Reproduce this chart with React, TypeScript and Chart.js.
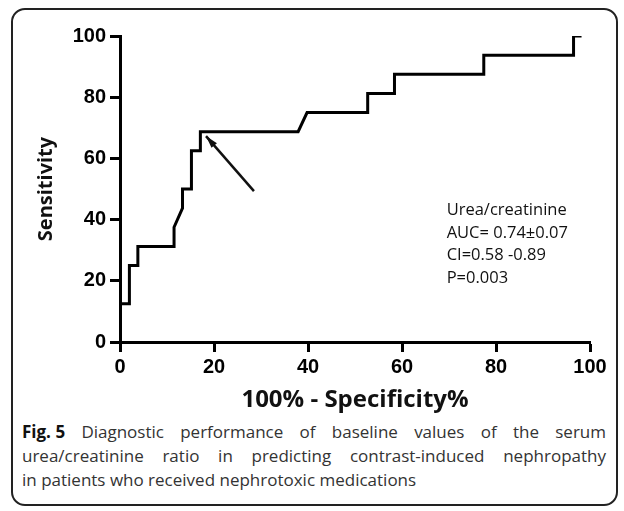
import React, { useEffect, useRef } from "react";
import { Chart, registerables } from "chart.js";

Chart.register(...registerables);

// ROC curve: 100% - Specificity% (x) vs Sensitivity (y)
const fprValues = [0, 0, 2, 2, 3.8, 3.8, 11.5, 11.5, 13.3, 13.3, 15.2, 15.2, 17.1, 17.1, 37.9, 39.8, 52.7, 52.7, 58.4, 58.4, 77.4, 77.4, 96.5, 96.5, 98.2];
const sensValues = [0, 12.5, 12.5, 25, 25, 31.25, 31.25, 37.5, 43.75, 50, 50, 62.5, 62.5, 68.75, 68.75, 75, 75, 81.25, 81.25, 87.5, 87.5, 93.75, 93.75, 100, 100];

const tickValues = [0, 20, 40, 60, 80, 100];
const xTitle = "100% - Specificity%";
const yTitle = "Sensitivity";

const annotationLines = ["Urea/creatinine", "AUC= 0.74\u00B10.07", "CI=0.58 -0.89", "P=0.003"];
const annotationAnchor = { x: 69.5, y: 43 };
const arrowTail = { x: 28.5, y: 49.3 };
const arrowHead = { x: 18.3, y: 67.3 };

const captionBold = "Fig. 5";
const captionLines = [
  "Diagnostic performance of baseline values of the serum",
  "urea/creatinine ratio in predicting contrast-induced nephropathy",
  "in patients who received nephrotoxic medications",
];

const annotationPlugin = {
  id: "rocAnnotations",
  afterDatasetsDraw(chart: any) {
    const { ctx, scales } = chart;
    const xs = scales.x;
    const ys = scales.y;
    ctx.save();
    // arrow
    const x1 = xs.getPixelForValue(arrowTail.x);
    const y1 = ys.getPixelForValue(arrowTail.y);
    const x2 = xs.getPixelForValue(arrowHead.x);
    const y2 = ys.getPixelForValue(arrowHead.y);
    ctx.strokeStyle = "#111";
    ctx.fillStyle = "#111";
    ctx.lineWidth = 2.5;
    ctx.beginPath();
    ctx.moveTo(x1, y1);
    ctx.lineTo(x2, y2);
    ctx.stroke();
    const ang = Math.atan2(y2 - y1, x2 - x1);
    const len = 13;
    const spread = 0.28;
    ctx.beginPath();
    ctx.moveTo(x2, y2);
    ctx.lineTo(x2 - len * Math.cos(ang - spread), y2 - len * Math.sin(ang - spread));
    ctx.lineTo(x2 - len * Math.cos(ang + spread), y2 - len * Math.sin(ang + spread));
    ctx.closePath();
    ctx.fill();
    // text
    ctx.font = '16.5px "Open Sans"';
    ctx.fillStyle = "#111";
    ctx.textBaseline = "middle";
    ctx.textAlign = "left";
    const tx = xs.getPixelForValue(annotationAnchor.x);
    const ty = ys.getPixelForValue(annotationAnchor.y);
    annotationLines.forEach((line, i) => {
      ctx.fillText(line, tx, ty + i * 22.5);
    });
    ctx.restore();
  },
};

function RocChart() {
  const ref = useRef<HTMLCanvasElement | null>(null);
  useEffect(() => {
    if (!ref.current) return;
    const data = fprValues.map((x, i) => ({ x, y: sensValues[i] }));
    const tickFont = { family: '"Liberation Sans", Arial, sans-serif', size: 20, weight: "bold" as const };
    const chart = new Chart(ref.current, {
      type: "scatter",
      data: {
        datasets: [
          {
            data,
            showLine: true,
            borderColor: "#000",
            borderWidth: 3,
            pointRadius: 0,
            tension: 0,
            fill: false,
          },
        ],
      },
      options: {
        animation: false,
        responsive: false,
        layout: { padding: { top: 36, right: 34, left: 0, bottom: 0 } },
        plugins: { legend: { display: false }, tooltip: { enabled: false } },
        scales: {
          x: {
            type: "linear",
            min: 0,
            max: 100,
            afterBuildTicks: (scale: any) => {
              scale.ticks = tickValues.map((v) => ({ value: v }));
            },
            afterFit: (scale: any) => {
              scale.height = 78;
            },
            ticks: { color: "#000", font: tickFont, padding: 3, maxRotation: 0 },
            grid: { drawOnChartArea: false, drawTicks: true, tickLength: 10, tickWidth: 3, tickColor: "#000" },
            border: { display: true, color: "#000", width: 3 },
            title: {
              display: true,
              text: xTitle,
              color: "#111",
              font: { family: '"Open Sans", sans-serif', size: 24, weight: "bold" },
              padding: { top: 0, bottom: 5 },
            },
          },
          y: {
            type: "linear",
            min: 0,
            max: 100,
            afterBuildTicks: (scale: any) => {
              scale.ticks = tickValues.map((v) => ({ value: v }));
            },
            afterFit: (scale: any) => {
              scale.width = 120;
            },
            ticks: { color: "#000", font: tickFont, padding: 4 },
            grid: { drawOnChartArea: false, drawTicks: true, tickLength: 10, tickWidth: 3, tickColor: "#000" },
            border: { display: true, color: "#000", width: 3 },
            title: {
              display: true,
              text: yTitle,
              color: "#111",
              font: { family: '"Open Sans", sans-serif', size: 20, weight: "bold" },
              padding: { top: 34, bottom: 0 },
            },
          },
        },
      },
      plugins: [annotationPlugin],
    });
    return () => chart.destroy();
  }, []);
  return <canvas ref={ref} width={624} height={420} style={{ position: "absolute", left: 0, top: 0, display: "block" }} />;
}

export default function App() {
  const lineStyle: React.CSSProperties = {
    height: 24,
    lineHeight: "24px",
    whiteSpace: "nowrap",
  };
  return (
    <div style={{ position: "absolute", left: 0, top: 0, width: 624, height: 511, background: "#fff", overflow: "hidden" }}>
      <div
        style={{
          position: "absolute",
          left: 11,
          top: 8,
          width: 607,
          height: 498,
          border: "2px solid #222",
          borderRadius: 14,
          boxSizing: "border-box",
        }}
      />
      <RocChart />
      <div
        style={{
          position: "absolute",
          left: 22,
          top: 420,
          width: 584,
          fontFamily: '"Open Sans", sans-serif',
          fontSize: 17,
          color: "#333",
        }}
      >
        <div style={{ ...lineStyle, textAlign: "justify", textAlignLast: "justify" }}>
          <span style={{ fontWeight: "bold", color: "#111", display: "inline-block" }}>{captionBold}</span>{" "}
          {captionLines[0]}
        </div>
        <div style={{ ...lineStyle, textAlign: "justify", textAlignLast: "justify" }}>{captionLines[1]}</div>
        <div style={{ ...lineStyle, textAlign: "left" }}>{captionLines[2]}</div>
      </div>
    </div>
  );
}
